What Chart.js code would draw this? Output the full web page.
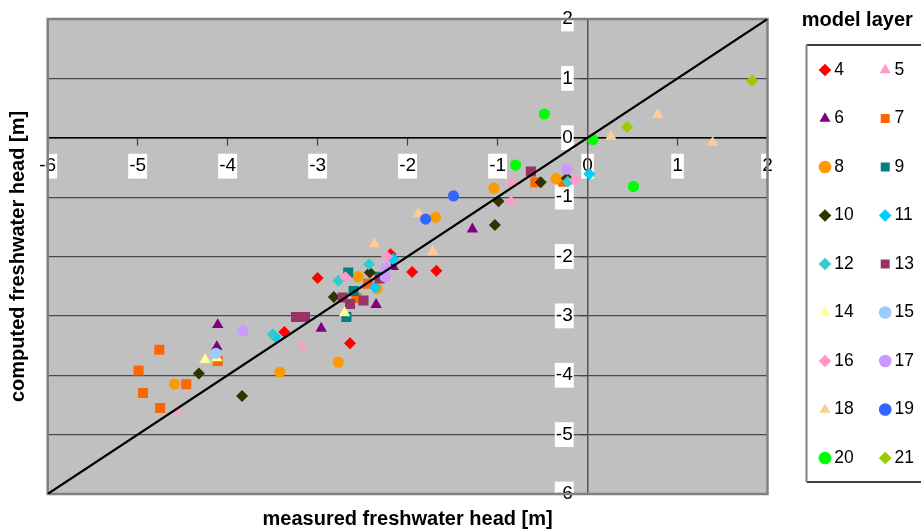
<!DOCTYPE html>
<html lang="en">
<head>
<meta charset="UTF-8">
<title>Measured vs computed freshwater head</title>
<script src="https://cdn.jsdelivr.net/npm/chart.js"></script>
<style>
  body { margin: 0; background: #fff; }
</style>
</head>
<body>
<canvas id="myChart" width="921" height="529"></canvas>
<script>
  // model layers (legend entries)
  const layers = ['4', '5', '6', '7', '8', '9', '10', '11', '12', '13', '14', '15', '16', '17', '18', '19', '20', '21'];

  // [measured, computed] freshwater head in m, one list per layer
  const layer4 = [[-3.00, -2.36], [-2.64, -3.46], [-1.95, -2.26], [-1.68, -2.24], [-3.37, -3.27], [-2.19, -1.96]];
  const layer5 = [[-3.17, -3.52], [-0.85, -1.07], [-4.56, -4.59]];
  const layer6 = [[-1.28, -1.54], [-2.35, -2.81], [-2.96, -3.21], [-4.11, -3.15], [-4.12, -3.52], [-2.16, -2.17]];
  const layer7 = [[-4.76, -3.57], [-4.99, -3.92], [-4.94, -4.30], [-4.75, -4.55], [-4.46, -4.15], [-4.11, -3.76],
                  [-0.58, -0.75], [-0.27, -0.74], [-2.44, -2.46], [-2.57, -2.70]];
  const layer8 = [[-1.04, -0.85], [-0.35, -0.69], [-1.69, -1.34], [-2.55, -2.34], [-2.34, -2.54], [-2.77, -3.78],
                  [-3.42, -3.95], [-4.59, -4.15]];
  const layer9 = [[-2.66, -2.27], [-2.60, -2.58], [-2.68, -3.02], [-2.31, -2.34]];
  const layer10 = [[-0.52, -0.75], [-0.99, -1.07], [-1.03, -1.47], [-0.23, -0.68], [-2.42, -2.27], [-2.82, -2.68],
                   [-4.32, -3.97], [-3.84, -4.35]];
  const layer11 = [[-2.16, -2.04], [-3.47, -3.35], [-2.36, -2.52], [0.02, -0.61]];
  const layer12 = [[-2.43, -2.13], [-2.77, -2.41], [-3.50, -3.31], [-0.22, -0.74]];
  const layer13 = [[-0.63, -0.57], [-3.24, -3.02], [-3.14, -3.02], [-2.72, -2.69], [-2.64, -2.80], [-2.49, -2.74], [-2.31, -2.37]];
  const layer14 = [[-4.25, -3.74], [-4.12, -3.71], [-2.70, -2.95]];
  const layer15 = [[-4.13, -3.63]];
  const layer16 = [[-0.84, -0.76], [-0.14, -0.71], [-2.23, -2.00], [-2.69, -2.35]];
  const layer17 = [[-0.23, -0.53], [-3.83, -3.25], [-2.24, -2.19], [-2.25, -2.34]];
  const layer18 = [[0.78, 0.39], [0.26, 0.02], [1.39, -0.08], [-1.88, -1.28], [-2.37, -1.79], [-1.72, -1.92]];
  const layer19 = [[-1.49, -0.98], [-1.80, -1.37]];
  const layer20 = [[-0.48, 0.40], [-0.80, -0.46], [0.06, -0.03], [0.51, -0.82]];
  const layer21 = [[1.83, 0.96], [0.44, 0.18]];

  // axis ticks and the 1:1 reference line
  const xTicks = [-6, -5, -4, -3, -2, -1, 0, 1, 2];
  const yTicks = [-6, -5, -4, -3, -2, -1, 0, 1, 2];
  const oneToOne = [-6, 2];

  const series = [layer4, layer5, layer6, layer7, layer8, layer9, layer10, layer11, layer12,
                  layer13, layer14, layer15, layer16, layer17, layer18, layer19, layer20, layer21];

  // marker styles (excel palette)
  const colors = ['#FF0000', '#FF99CC', '#800080', '#FF6600', '#FF9900', '#008080', '#333300', '#00CCFF', '#33CCCC',
                  '#993366', '#FFFF99', '#99CCFF', '#FF99CC', '#CC99FF', '#FFCC99', '#3366FF', '#00FF00', '#99CC00'];
  const shapes = ['rectRot', 'triangle', 'triangle', 'rect', 'circle', 'rect', 'rectRot', 'rectRot', 'rectRot',
                  'rect', 'triangle', 'circle', 'rectRot', 'circle', 'triangle', 'circle', 'circle', 'rectRot'];
  const radius = { circle: 5.6, triangle: 6.6, rectRot: 6, rect: 7.1 };

  const family = '"Liberation Sans", Arial, sans-serif';

  const datasets = series.map((pts, i) => ({
    label: layers[i],
    data: pts.map(p => ({ x: p[0], y: p[1] })),
    pointStyle: shapes[i],
    backgroundColor: colors[i],
    borderColor: colors[i],
    borderWidth: 0,
    pointRadius: radius[shapes[i]],
    pointHoverRadius: radius[shapes[i]],
    order: 100 - i
  }));
  datasets.push({
    type: 'line',
    label: '1:1',
    data: oneToOne.map(v => ({ x: v, y: v })),
    borderColor: '#000',
    borderWidth: 2.2,
    pointRadius: 0,
    fill: false,
    order: -1
  });

  // grey plot area, its frame and the legend frame
  const plotArea = {
    id: 'plotArea',
    beforeDraw(chart) {
      const { ctx, chartArea: a } = chart;
      ctx.save();
      ctx.fillStyle = '#C0C0C0';
      ctx.fillRect(a.left, a.top, a.width, a.height);
      ctx.restore();
    },
    beforeDatasetsDraw(chart) {
      const { ctx, chartArea: a } = chart;
      ctx.save();
      ctx.strokeStyle = '#808080';
      ctx.lineWidth = 2.5;
      ctx.strokeRect(a.left, a.top, a.width, a.height);
      ctx.restore();
    },
    afterDraw(chart) {
      const { ctx } = chart;
      const left = chart.legend.left + 13;
      ctx.save();
      ctx.strokeStyle = '#000';
      ctx.lineWidth = 1.5;
      ctx.beginPath();
      ctx.moveTo(left, 45);
      ctx.lineTo(chart.width + 5, 45);
      ctx.moveTo(left, 482);
      ctx.lineTo(chart.width + 5, 482);
      ctx.stroke();
      ctx.strokeStyle = '#808080';
      ctx.lineWidth = 2;
      ctx.beginPath();
      ctx.moveTo(left, 45);
      ctx.lineTo(left, 482);
      ctx.stroke();
      ctx.restore();
    }
  };

  const legendKey = item => (item.datasetIndex % 2) * 100 + item.datasetIndex;

  const tickFont = { family: family, size: 19 };
  const labelTicks = {
    font: tickFont, color: '#000', autoSkip: false, maxRotation: 0,
    showLabelBackdrop: true, backdropColor: '#fff', backdropPadding: { x: 1, y: 1 }
  };
  // empty boxes that keep the plot clear of the top edge and the legend
  const spacer = size => ({
    type: 'linear',
    display: true,
    grid: { display: false },
    ticks: { display: false },
    border: { display: false },
    afterFit: s => { if (s.isHorizontal()) { s.height = size; } else { s.width = size; } }
  });

  const ctx = document.getElementById('myChart').getContext('2d');
  const myChart = new Chart(ctx, {
    type: 'scatter',
    data: { datasets: datasets },
    options: {
      responsive: false,
      animation: false,
      layout: { padding: { top: 0, right: 0, bottom: 0, left: 0 } },
      scales: {
        x: {
          type: 'linear',
          min: -6,
          max: 2,
          position: { y: 0 },
          z: 1,
          afterBuildTicks: axis => { axis.ticks = xTicks.map(v => ({ value: v })); },
          grid: { drawOnChartArea: false, drawTicks: true, tickLength: 7, tickColor: '#404040', tickWidth: 1.2 },
          border: { display: true, color: '#000', width: 1.5 },
          ticks: Object.assign({ padding: 10 }, labelTicks)
        },
        y: {
          type: 'linear',
          min: -6,
          max: 2,
          position: { x: 0 },
          afterBuildTicks: axis => { axis.ticks = yTicks.map(v => ({ value: v })); },
          grid: {
            color: c => (c.tick && c.tick.value === 0 ? '#000' : '#4a4a4a'),
            lineWidth: 1.2, tickLength: 7, tickColor: '#404040'
          },
          border: { display: true, color: '#555', width: 1.5 },
          ticks: { display: false }
        },
        // y labels sit a little left of the vertical axis
        yLabels: {
          type: 'linear',
          axis: 'y',
          min: -6,
          max: 2,
          position: { x: -0.165 },
          afterBuildTicks: axis => { axis.ticks = yTicks.map(v => ({ value: v })); },
          grid: { display: false },
          border: { display: false },
          ticks: labelTicks
        },
        x2: Object.assign({ position: 'top', axis: 'x' }, spacer(19)),
        y2: Object.assign({ position: 'right', axis: 'y' }, spacer(26))
      },
      plugins: {
        legend: {
          position: 'right',
          align: 'start',
          maxWidth: 127.5,
          title: {
            display: true, text: 'model layer', color: '#000',
            font: { family: family, size: 20, weight: 'bold', lineHeight: 1.2 },
            padding: { top: 10, bottom: -3.75 }
          },
          labels: {
            usePointStyle: true, boxWidth: 1, boxHeight: 9, padding: 31, color: '#000',
            font: { family: family, size: 17.5 },
            filter: item => item.datasetIndex < layers.length,
            sort: (a, b) => legendKey(a) - legendKey(b)
          }
        },
        title: {
          display: true, text: 'measured freshwater head [m]', position: 'bottom', fullSize: false, color: '#000',
          font: { family: family, size: 20, weight: 'bold', lineHeight: 1 },
          padding: { top: 15, bottom: 0 }
        },
        subtitle: {
          display: true, text: 'computed freshwater head [m]', position: 'left', fullSize: false, color: '#000',
          font: { family: family, size: 20, weight: 'bold', lineHeight: 1 },
          padding: { top: 8, bottom: 19.7 }
        },
        tooltip: { enabled: false }
      }
    },
    plugins: [plotArea]
  });
</script>
</body>
</html>
